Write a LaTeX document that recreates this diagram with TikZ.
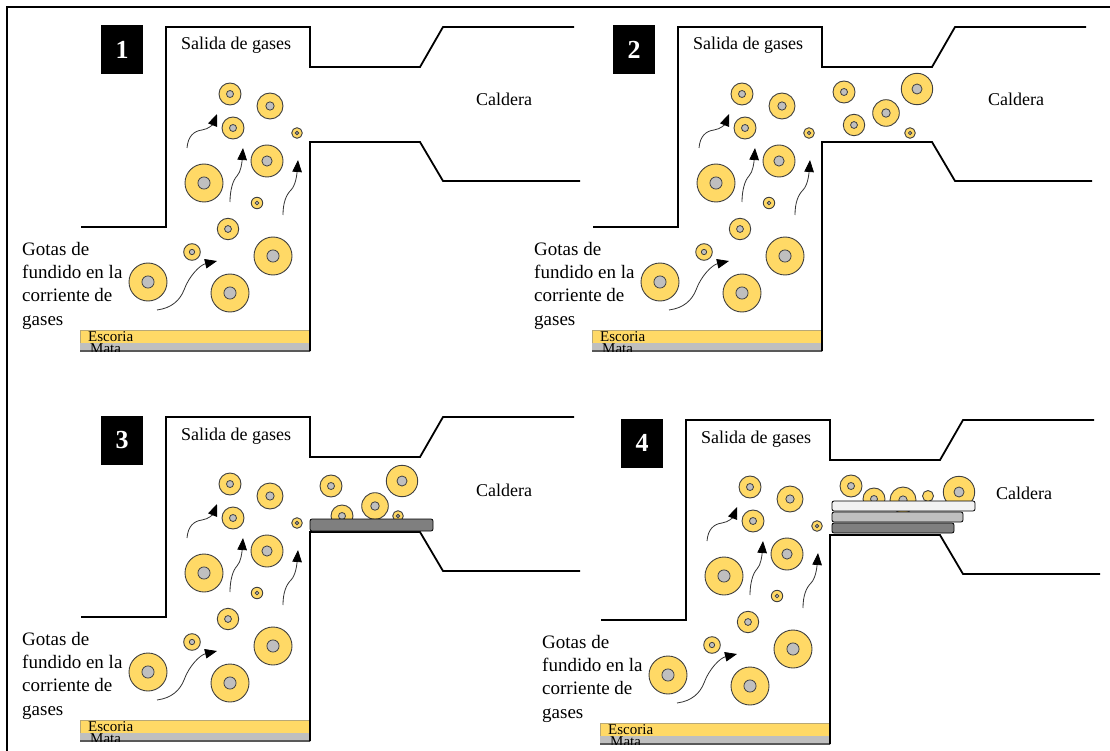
\documentclass[tikz,border=0pt]{standalone}
\usepackage{fontspec}
\setmainfont{Liberation Serif}
\usepackage{tikz}
\usetikzlibrary{arrows.meta}
\definecolor{oro}{HTML}{FFD966}
\definecolor{gris}{HTML}{BFBFBF}
\definecolor{grisosc}{HTML}{7F7F7F}
\definecolor{grisclaro}{HTML}{F2F2F2}

% one droplet with its core: x, y, radius
\newcommand{\gota}[3]{%
  \draw[gota] (#1,#2) circle (#3);
  \draw[nucleo] (#1,#2) circle ({0.32*#3});}

% furnace, slag, matte, droplets and gas flow; #1 = panel number
\newcommand{\horno}[1]{%
  \node[numero] (num#1) at (122,50) {#1};
  % slag over matte
  \draw[fill=oro,draw=oro!60!black!70] (80,330) rectangle (310,343);
  \fill[gris] (80,343) rectangle (310,351);
  \draw[black!65,line width=1.2pt] (80,351) -- (310,351);
  \node[capa,anchor=base west] (escoria#1) at (88,341) {Escoria};
  \begin{scope}
    \clip (80,330) rectangle (310,351);
    \node[capa,anchor=base west] (mata#1) at (90,353) {Mata};
  \end{scope}
  % walls
  \draw[pared] (81,227) -- (166,227) -- (166,27) -- (310,27) -- (310,67)
    -- (420,67) -- (443,27) -- (574,27);
  \draw[pared] (580,181) -- (443,181) -- (420,142) -- (310,142) -- (310,351);
  \node[rotulo,anchor=base west] (salida#1) at (181,50) {Salida de gases};
  \node[rotulo,anchor=base west] (caldera#1) at (476,106) {Caldera};
  \node[gotas,anchor=north west,align=left] (texto#1) at (22,242)
    {Gotas de\\fundido en la\\corriente de\\gases};
  % droplets
  \gota{230}{94}{11}
  \gota{270}{106}{13}
  \gota{233}{128}{11}
  \gota{297}{133}{5.3}
  \gota{267}{161}{16}
  \gota{204}{183}{19}
  \gota{257}{203}{5.7}
  \gota{228}{229}{10.7}
  \gota{192}{252}{8.3}
  \gota{273}{256}{19}
  \gota{148}{282}{19}
  \gota{230}{293}{19}
  % gas flow
  \draw[flujo] (187,148) .. controls (188,136) and (194,131) .. (202,130)
    .. controls (209,129) and (213,124) .. (217,114);
  \draw[flujo] (230,202) .. controls (230,190) and (233,180) .. (237,176)
    .. controls (241,172) and (242,162) .. (243,148);
  \draw[flujo] (283,215) .. controls (283,203) and (286,195) .. (291,190)
    .. controls (296,185) and (297,173) .. (298,160);
  \draw[flujo] (157,310) .. controls (172,308) and (180,300) .. (184,290)
    .. controls (189,276) and (200,265) .. (217,261);
}

\begin{document}
\begin{tikzpicture}[x=1pt,y=-1pt
	,gota/.style={fill=oro,draw=black!75,line width=0.9pt}
	,nucleo/.style={fill=gris,draw=black!75,line width=0.8pt}
	,pared/.style={draw=black,line width=1.8pt}
	,flujo/.style={draw=black!80,line width=0.8pt
	  ,-{Triangle[length=12pt,width=9.5pt,color=black]}}
	,numero/.style={fill=black,text=white,inner sep=0pt
	  ,minimum width=42pt,minimum height=49pt
	  ,font=\fontsize{26}{26}\selectfont\bfseries}
	,rotulo/.style={inner sep=0pt,font=\fontsize{18}{22}\selectfont}
	,gotas/.style={inner sep=0pt,font=\fontsize{19}{23.3}\selectfont}
	,capa/.style={inner sep=0pt,font=\fontsize{15}{15}\selectfont}
	,placa/.style={draw=black,line width=0.8pt,rounded corners=2pt}
	]
  \useasboundingbox (0,0) rectangle (1110,751);
  % frame
  \draw[line width=1.8pt] (1110,7) -- (7,7) -- (7,751);

  % 1
  \horno{1}

  % 2: droplets reach the boiler
  \begin{scope}[shift={(512,0)}]
    \horno{2}
    \gota{332}{92}{11}
    \gota{342}{125}{10.7}
    \gota{374}{113}{13.3}
    \gota{405}{89}{15.7}
    \gota{398}{133}{5.3}
  \end{scope}

  % 3: first layer at the boiler mouth
  \begin{scope}[shift={(0,390)}]
    \horno{3}
    \gota{331}{96}{11}
    \gota{342}{126}{11}
    \gota{375}{116}{13.3}
    \gota{402}{91}{15.7}
    \gota{398}{126}{5.3}
    \draw[placa,fill=grisosc] (310,129) rectangle (433,141);
  \end{scope}

  % 4: layers pile up
  \begin{scope}[shift={(520,393)}]
    \horno{4}
    \gota{331}{93}{11}
    \gota{354}{106}{11}
    \gota{383}{107}{13}
    \draw[gota] (408,103) circle (5.5);
    \gota{439}{99}{15.7}
    \draw[placa,fill=grisclaro] (312,108) rectangle (455,118);
    \draw[placa,fill=gris] (312,119) rectangle (443,129);
    \draw[placa,fill=grisosc] (312,130) rectangle (434,140);
  \end{scope}
\end{tikzpicture}
\end{document}
